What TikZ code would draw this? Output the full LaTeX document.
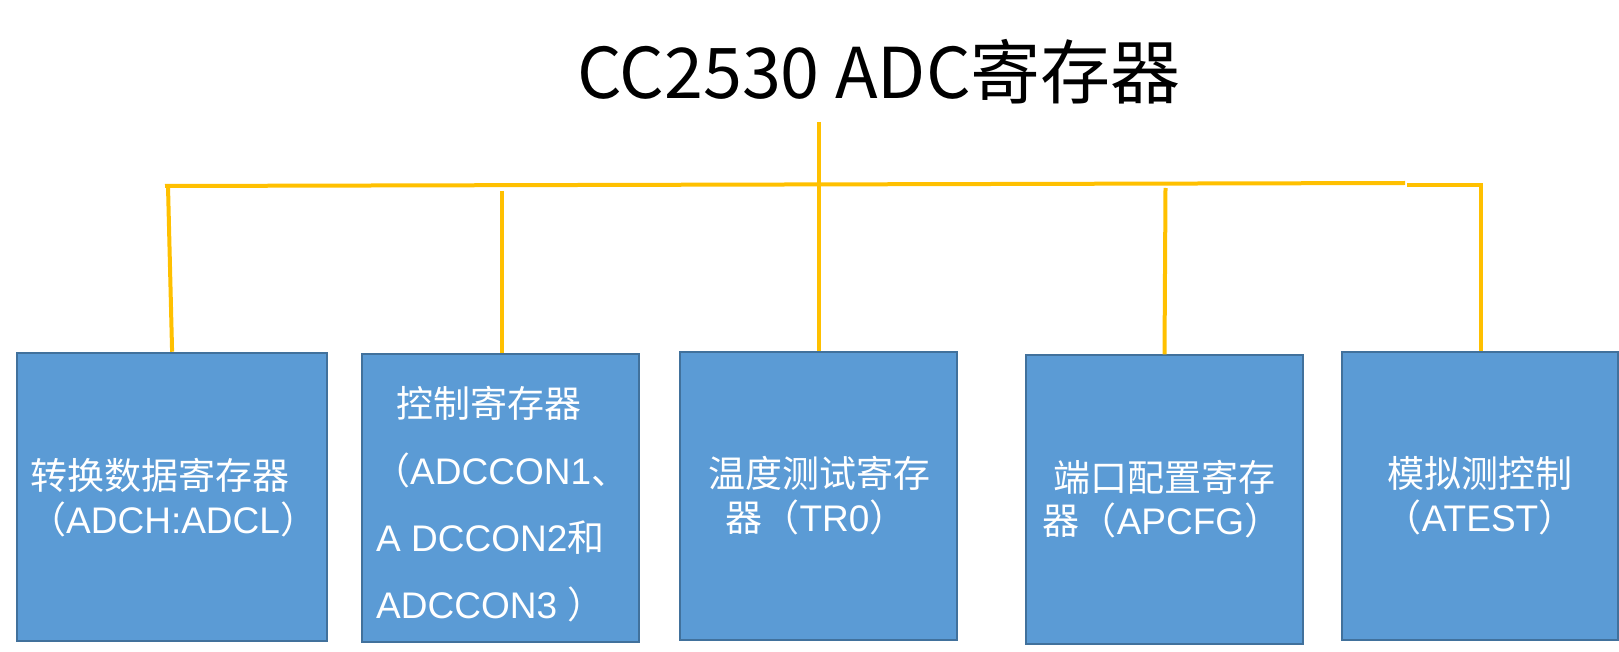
\documentclass[tikz,border=0pt]{standalone}
\usepackage{fontspec}
\setmainfont{Liberation Sans}
\newfontfamily\cjk{Noto Sans CJK SC}
\definecolor{linkyellow}{HTML}{FFC000}
\definecolor{boxfill}{HTML}{5B9BD5}
\definecolor{boxline}{HTML}{41719C}
\begin{document}
\begin{tikzpicture}[x=1pt,y=-1pt,
  box/.style={draw=boxline, line width=2pt, fill=boxfill, inner sep=0pt},
  link/.style={draw=linkyellow, line width=4pt},
  txt/.style={text=white, inner sep=0pt, font=\fontsize{37}{44}\selectfont},
  titletxt/.style={text=black, inner sep=0pt, font=\cjk\fontsize{70}{84}\selectfont}]
\useasboundingbox (0,0) rectangle (1619,652);
% title
\node[titletxt, anchor=base west] (title) at (577,99) {CC2530 ADC寄存器};
% boxes
\node[box, minimum width=310.6pt, minimum height=288.3pt] (b1) at (172.1,496.9) {};
\node[box, minimum width=277pt, minimum height=288.6pt] (b2) at (500.5,498) {};
\node[box, minimum width=277.4pt, minimum height=288.3pt] (b3) at (818.3,495.9) {};
\node[box, minimum width=277.7pt, minimum height=288.7pt] (b4) at (1164.5,499.7) {};
\node[box, minimum width=276pt, minimum height=288.5pt] (b5) at (1480,495.8) {};
% box texts
\node[txt, anchor=base west] (t1a) at (30,489) {{\cjk 转换数据寄存器}};
\node[txt, anchor=base west] (t1b) at (29,533) {{\cjk （}ADCH:ADCL{\cjk ）}};
\node[txt, anchor=base west] (t2a) at (396,417) {{\cjk 控制寄存器}};
\node[txt, anchor=base west] (t2b) at (373,484) {{\cjk （}ADCCON1{\cjk 、}};
\node[txt, anchor=base west] (t2c) at (376,551) {A DCCON2{\cjk 和}};
\node[txt, anchor=base west] (t2d) at (376,618) {ADCCON3 {\cjk ）}};
\node[txt, anchor=base] (t3a) at (819,487) {{\cjk 温度测试寄存}};
\node[txt, anchor=base] (t3b) at (816,531) {{\cjk 器（}TR0{\cjk ）}};
\node[txt, anchor=base] (t4a) at (1164,491) {{\cjk 端口配置寄存}};
\node[txt, anchor=base] (t4b) at (1162,534) {{\cjk 器（}APCFG{\cjk ）}};
\node[txt, anchor=base] (t5a) at (1480,487) {{\cjk 模拟测控制}};
\node[txt, anchor=base] (t5b) at (1480,531) {{\cjk （}ATEST{\cjk ）}};
% connector coordinates
\coordinate (tbot) at (819,122);
\coordinate (hL) at (165,186);
\coordinate (hR) at (1405,183);
\coordinate (c1) at (168,186);
\coordinate (c2) at (501.5,191);
\coordinate (c4) at (1165.5,188);
\coordinate (r1) at (1407,184.7);
\coordinate (r2) at (1481,184.7);
% connectors
\draw[link] (hL) -- (hR);
\draw[link] (tbot) -- (tbot |- b3.north);
\draw[link] (c1) -- (b1.north);
\draw[link] (c2) -- (c2 |- b2.north);
\draw[link] (c4) -- (b4.north);
\draw[link] (r1) -- (r2) -- (r2 |- b5.north);
\end{tikzpicture}
\end{document}
